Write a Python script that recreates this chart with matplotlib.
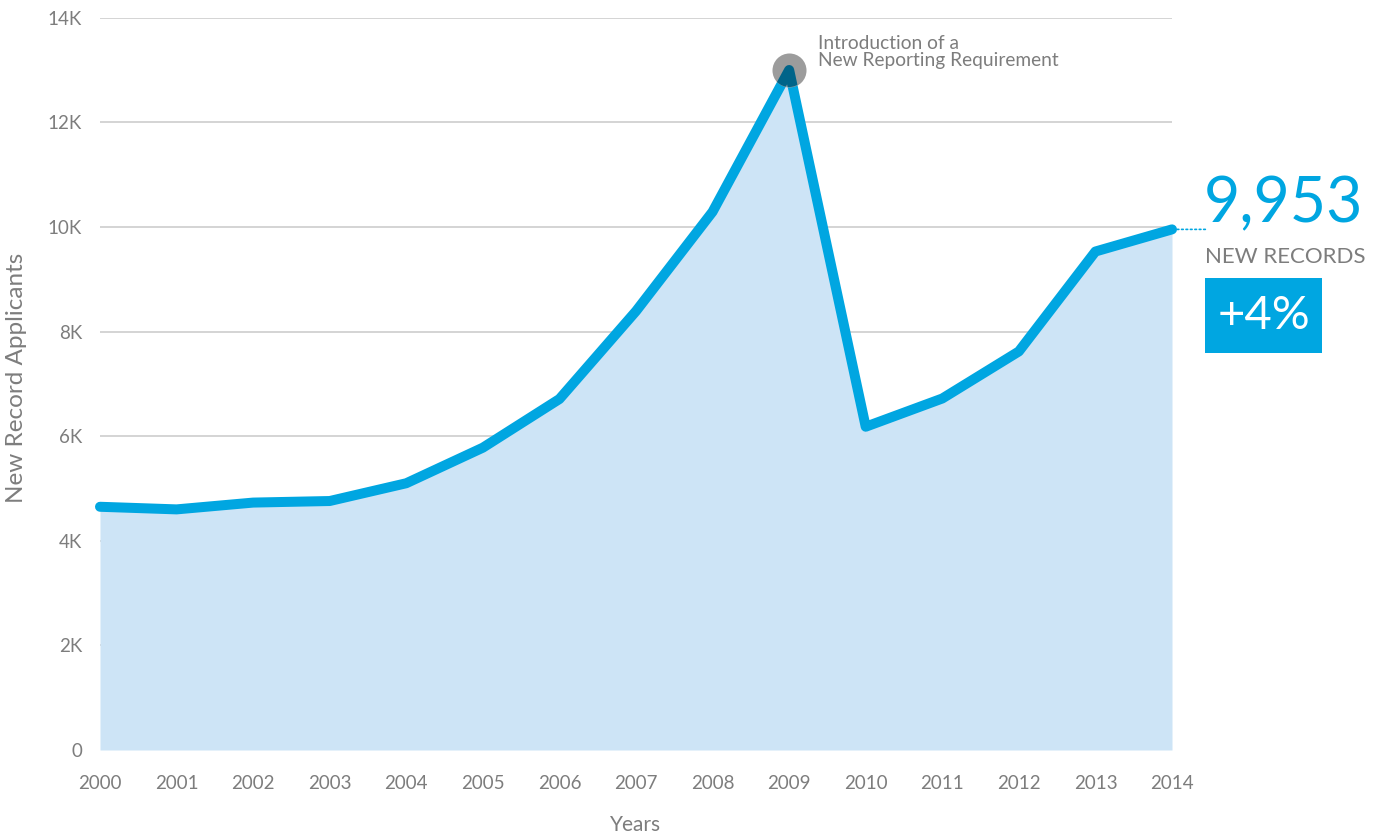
import numpy as np
import matplotlib
matplotlib.use('Agg')
import matplotlib.pyplot as plt
from matplotlib.patches import Circle, Rectangle
from matplotlib.transforms import ScaledTranslation
from matplotlib.ticker import FuncFormatter

plt.rcParams['font.family'] = ['Lato', 'DejaVu Sans']

# data
years = list(range(2000, 2015))
applicants = [4650, 4600, 4730, 4760, 5100, 5780, 6710, 8390,
              10290, 13000, 6180, 6720, 7620, 9530, 9953]
y_ticks = [0, 2000, 4000, 6000, 8000, 10000, 12000, 14000]
peak_year = 2009
peak_note = "Introduction of a\nNew Reporting Requirement"
latest_label = "9,953"
latest_sub = "NEW RECORDS"
change_label = "+4%"

line_blue = '#00a6e1'
fill_blue = '#cde4f6'
grey_text = '#7d7d7d'

fig = plt.figure(figsize=(13.76, 8.35), dpi=100)
ax = fig.add_axes([100 / 1376, 1 - 750 / 835, 1072 / 1376, (750 - 17.7) / 835])

ax.fill_between(years, applicants, 0, color=fill_blue, linewidth=0, zorder=2)
ax.plot(years, applicants, color=line_blue, lw=7.2, solid_joinstyle='round',
        solid_capstyle='round', zorder=3, clip_on=False)

# grey marker over the peak, line shows darker through it
peak_val = applicants[years.index(peak_year)]
ax.plot([peak_year], [peak_val], 'o', ms=24.5, color='#979797', alpha=0.95,
        zorder=4, clip_on=False, markeredgewidth=0)
dark = ax.plot(years, applicants, color='#006489', lw=7.2, solid_joinstyle='round',
               solid_capstyle='round', zorder=5)[0]
clip_tr = fig.dpi_scale_trans + ScaledTranslation(peak_year, peak_val, ax.transData)
clip_circle = Circle((0, 0), 0.17, transform=clip_tr)
dark.set_clip_path(clip_circle)

ax.annotate(peak_note, xy=(peak_year, peak_val), xytext=(21, 1),
            textcoords='offset points', ha='left', va='bottom',
            fontsize=13.8, color=grey_text, linespacing=0.98)

# dotted leader to the big number
ax.annotate('', xy=(years[-1], applicants[-1]), xytext=(24, 0),
            textcoords='offset points',
            arrowprops=dict(arrowstyle='-', linestyle=':', color=line_blue, lw=1.2,
                            shrinkA=0, shrinkB=0))
ax.annotate(latest_label, xy=(years[-1], applicants[-1]), xytext=(23, 18),
            textcoords='offset points', ha='left', va='center',
            fontsize=45, color=line_blue)
ax.annotate(latest_sub, xy=(years[-1], applicants[-1]), xytext=(23.5, -20),
            textcoords='offset points', ha='left', va='center',
            fontsize=16, color=grey_text)

fig.add_artist(Rectangle((1205 / 1376, 1 - 353 / 835), 117 / 1376, 75 / 835,
                         transform=fig.transFigure, color=line_blue, lw=0))
fig.text(1263.5 / 1376, 1 - 316 / 835, change_label, ha='center', va='center',
         fontsize=34, color='white')

ax.set_xlim(years[0], years[-1])
ax.set_ylim(0, 14000)
ax.set_xticks(years)
ax.set_yticks(y_ticks)
ax.yaxis.set_major_formatter(FuncFormatter(lambda v, p: '0' if v == 0 else '%dK' % (v / 1000)))
ax.tick_params(axis='both', length=0, labelsize=13.5, labelcolor=grey_text)
ax.tick_params(axis='y', pad=13)
ax.tick_params(axis='x', pad=18)
ax.yaxis.grid(True, color='#c9c9c9', lw=1.1)
ax.set_axisbelow(True)
ax.get_ygridlines()[0].set_visible(False)
for s in ax.spines.values():
    s.set_visible(False)

fig.text(17 / 1376, 1 - 378 / 835, 'New Record Applicants', rotation=90,
         ha='center', va='center', fontsize=17.5, color=grey_text)
fig.text(636 / 1376, 1 - 825 / 835, 'Years', ha='center', va='center',
         fontsize=15, color=grey_text)

fig.savefig('out.png', dpi=100)
